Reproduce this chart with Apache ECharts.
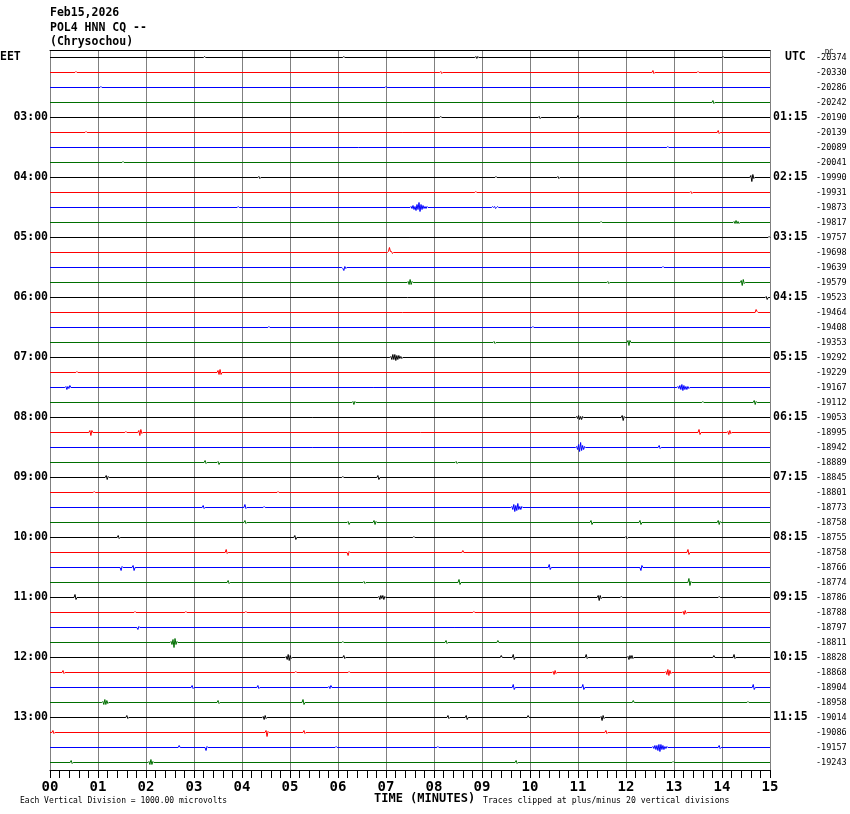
<!DOCTYPE html>
<html><head><meta charset="utf-8">
<script src="https://cdn.jsdelivr.net/npm/echarts@6/dist/echarts.min.js"></script>
<style>html,body{margin:0;padding:0;background:#fff}#c{width:850px;height:814px}</style>
</head><body><div id="c"></div>
<script>
// ---------------- data ----------------
const dateLabel = 'Feb15,2026';
const stationLabel = 'POL4 HNN CQ --';
const placeLabel = '(Chrysochou)';
const minuteTicks = ['00','01','02','03','04','05','06','07','08','09','10','11','12','13','14','15'];
const localHourLabels = ['03:00','04:00','05:00','06:00','07:00','08:00','09:00','10:00','11:00','12:00','13:00'];
const utcHourLabels = ['01:15','02:15','03:15','04:15','05:15','06:15','07:15','08:15','09:15','10:15','11:15'];
const dcValues = [-20374,-20330,-20286,-20242,-20190,-20139,-20089,-20041,-19990,-19931,-19873,-19817,
  -19757,-19698,-19639,-19579,-19523,-19464,-19408,-19353,-19292,-19229,-19167,-19112,
  -19053,-18995,-18942,-18889,-18845,-18801,-18773,-18758,-18755,-18758,-18766,-18774,
  -18786,-18788,-18797,-18811,-18828,-18868,-18904,-18958,-19014,-19086,-19157,-19243];
const traceColors = ['#000000','#ff0000','#0000ff','#006f00'];
// each trace: list of [start minute, [deflections]]
const traceEvents = [
  [[3.2,[1]],[6.1,[1]],[8.85,[1,-1,1]],[14.0,[1]]],
  [[0.52,[1]],[8.12,[1,-1]],[12.54,[2,-1]],[13.48,[1]]],
  [[1.04,[1]],[6.98,[1]]],
  [[13.79,[2,-1]]],
  [[8.12,[1]],[10.17,[1,-1]],[10.98,[2,-1]]],
  [[0.73,[1]],[13.9,[2,-1]]],
  [[12.85,[1]]],
  [[1.5,[1]]],
  [[4.33,[1,-1]],[9.27,[1]],[10.56,[1,-1]],[14.58,[2,-4,3,-1]]],
  [[8.85,[1]],[13.33,[1,-1]]],
  [[3.9,[1]],[7.5,[1,-1,2,-2,1,-3,3,-2,5,-4,3,-2,2,-1,1,-1,1]],[9.2,[1,0,1,-1,0,1]]],
  [[11.46,[1]],[14.23,[1,-1,2,-1,1,-1]]],
  [[14.96,[1]]],
  [[7.03,[1,5,1,1,-1]]],
  [[6.08,[-1,-3,1,-1]],[12.75,[1]]],
  [[7.44,[1,-2,3,-2,1]],[11.6,[1,-1]],[14.38,[2,-3,3,-1]]],
  [[14.9,[1,-2]]],
  [[14.69,[3,1]]],
  [[4.54,[1]],[10.04,[1]]],
  [[9.23,[1,-1]],[12.02,[2,-3,2]]],
  [[7.08,[1,-2,3,-2,3,-3,2,-2,2,-1,1,-1]]],
  [[0.54,[1]],[3.48,[2,-2,3,-2]]],
  [[0.31,[1,-2,1,-1,2]],[13.06,[1,-1,2,-2,3,-3,2,-2,1,-2,1,-1]]],
  [[6.29,[1,-2,1]],[13.58,[1]],[14.65,[2,-2,1]]],
  [[10.95,[1,-1,2,-2,1,-2,1]],[11.9,[2,-3,1]]],
  [[0.81,[2,-3,2]],[1.56,[1]],[1.83,[2,-3,3,-1]],[13.5,[3,-2]],[14.1,[1,-2,2,-1]]],
  [[10.95,[1,-2,3,-4,5,-3,2,-2,1]],[12.67,[2,-1]]],
  [[3.21,[2,-1]],[3.48,[1,-2]],[8.44,[1,-1]]],
  [[1.15,[2,-2,1]],[6.08,[1]],[6.81,[2,-2]]],
  [[0.9,[1]],[4.73,[1]]],
  [[3.17,[2,-1]],[4.04,[3,-1]],[4.44,[1]],[9.6,[1,-2,3,-4,2,-3,4,-2,1,-2,1]]],
  [[4.04,[2,-1]],[6.19,[1,-2]],[6.73,[2,-2,1]],[11.25,[2,-2]],[12.27,[2,-2]],[13.9,[2,-2,1]]],
  [[1.4,[2,-1]],[5.08,[2,-2]],[7.56,[1]],[11.98,[1,-1]]],
  [[3.65,[3,-1]],[6.19,[-3,1]],[8.58,[2]],[13.27,[3,-2]]],
  [[1.46,[-3,1]],[1.71,[2,-3]],[10.38,[3,-2]],[12.29,[-3,2]]],
  [[3.69,[2,-1]],[6.52,[1,-1]],[8.5,[3,-2]],[13.29,[4,-3,1]]],
  [[0.5,[3,-2]],[6.83,[1,-2,2,-1,2,-2,1]],[11.4,[2,-3,2,-1]],[11.88,[1]],[13.92,[1]]],
  [[1.75,[1]],[2.81,[1]],[4.06,[1]],[8.81,[1]],[13.17,[1,-2,2,-1]]],
  [[1.81,[-2,1]]],
  [[2.5,[1,-2,3,-5,4,-2,1]],[6.08,[1]],[8.23,[2,-1]],[9.31,[2]]],
  [[4.9,[1,-2,3,-3,2,-1]],[6.1,[2,-1]],[9.38,[2]],[9.63,[3,-2]],[11.15,[3,-1]],[12.02,[1,-2,2,-1,2,-1]],[13.81,[2]],[14.23,[3,-1]]],
  [[0.25,[2,-1]],[5.1,[1]],[6.21,[1]],[10.46,[1,-2,2,-1]],[12.81,[1,-2,3,-3,2,-1]]],
  [[2.94,[2,-1]],[4.31,[2,-1]],[5.79,[1,-1,2]],[9.63,[3,-2]],[11.08,[3,-2]],[14.63,[3,-2]]],
  [[1.08,[1,-2,3,-2,2,-1]],[3.48,[2,-1]],[5.25,[3,-2]],[12.13,[2]],[14.52,[1]]],
  [[1.58,[2,-1]],[4.42,[1,-2,2,-1]],[8.27,[2,-1]],[8.65,[2,-2]],[9.94,[2]],[11.46,[1,-3,2,-1]]],
  [[0.04,[2,-1]],[4.48,[2,-4,1]],[5.27,[2,-1]],[11.56,[2,-1]]],
  [[2.67,[2]],[3.23,[-3,1]],[5.94,[1]],[8.06,[1]],[12.54,[1,-1,2,-2,2,-3,3,-4,3,-2,2,-2,1,-1,1]],[13.92,[2,-1]]],
  [[0.42,[2,-1]],[2.04,[1,-2,3,-2,1]],[9.69,[2,-1]],[12.96,[1]]]
];
// ---------------- build ----------------
const ROW = 15;            // vertical units per trace
const STEP = 1 / 48;       // sample step in minutes
const tracePoints = traceEvents.map((evs, i) => {
  const base = i * ROW;
  const pts = [[0, base]];
  evs.forEach(([m, amps]) => {
    pts.push([m, base]);
    amps.forEach((a, j) => pts.push([m + (j + 1) * STEP, base - a]));
    pts.push([m + (amps.length + 1) * STEP, base]);
  });
  pts.push([15, base]);
  return pts;
});

const chart = echarts.init(document.getElementById('c'), null, { renderer: 'canvas' });
const MONO = '"DejaVu Sans Mono", monospace';
chart.setOption({
  backgroundColor: '#ffffff',
  animation: false,
  grid: { left: 50, right: 80, top: 50, height: 720 },
  xAxis: [{
    type: 'value', min: 0, max: 15, interval: 1, position: 'bottom',
    axisLine: { show: true, onZero: false, lineStyle: { color: '#000', width: 1 } },
    axisTick: { show: true, length: 8, lineStyle: { color: '#000' } },
    minorTick: { show: true, splitNumber: 5, length: 8, lineStyle: { color: '#000' } },
    splitLine: { show: true, lineStyle: { color: '#808080', width: 1 } },
    axisLabel: { margin: 10, color: '#000', fontFamily: MONO, fontWeight: 'bold', fontSize: 14,
      formatter: v => minuteTicks[Math.round(v)] }
  }, {
    type: 'value', min: 0, max: 15, position: 'top',
    axisLine: { show: true, onZero: false, lineStyle: { color: '#000', width: 1 } },
    axisTick: { show: false }, axisLabel: { show: false }, splitLine: { show: false }
  }],
  yAxis: { type: 'value', inverse: true, min: -7.5, max: 712.5, show: false, splitLine: { show: false } },
  series: [{
    type: 'custom', silent: true, clip: false, z: 3,
    data: tracePoints.map((p, i) => [0, i * ROW, i]),
    encode: { x: 0, y: 1 },
    renderItem: (params, api) => {
      const i = api.value(2);
      return {
        type: 'polyline',
        shape: { points: tracePoints[i].map(p => api.coord(p)) },
        style: { stroke: traceColors[i % 4], lineWidth: 1, fill: null }
      };
    }
  }]
});

const g = [];
const txt = (x, y, text, opt) => g.push({ type: 'text', x, y, silent: true, z: 10,
  style: Object.assign({ text, fill: '#000', font: 'bold 11.5px ' + MONO, verticalAlign: 'middle', align: 'left' }, opt || {}) });

txt(50, 13, dateLabel);
txt(50, 28, stationLabel);
txt(50, 42, placeLabel);

for (let i = 0; i < dcValues.length; i++) {
  const p = chart.convertToPixel({ gridIndex: 0 }, [15, i * ROW]);
  txt(816, p[1], String(dcValues[i]), { font: '8.5px ' + MONO });
  if (i === 0) {
    txt(0, p[1], 'EET');
    txt(785, p[1], 'UTC');
    txt(825, p[1] - 5, 'DC', { font: '7px ' + MONO });
  } else if (i % 4 === 0) {
    txt(48, p[1], localHourLabels[i / 4 - 1], { align: 'right' });
    txt(773, p[1], utcHourLabels[i / 4 - 1]);
  }
}
txt(20, 801, 'Each Vertical Division = 1000.00 microvolts', { font: '8px ' + MONO });
txt(374, 799, 'TIME (MINUTES)', { font: 'bold 12px ' + MONO });
txt(483, 801, 'Traces clipped at plus/minus 20 vertical divisions', { font: '8.2px ' + MONO });
chart.setOption({ graphic: g });
</script></body></html>
